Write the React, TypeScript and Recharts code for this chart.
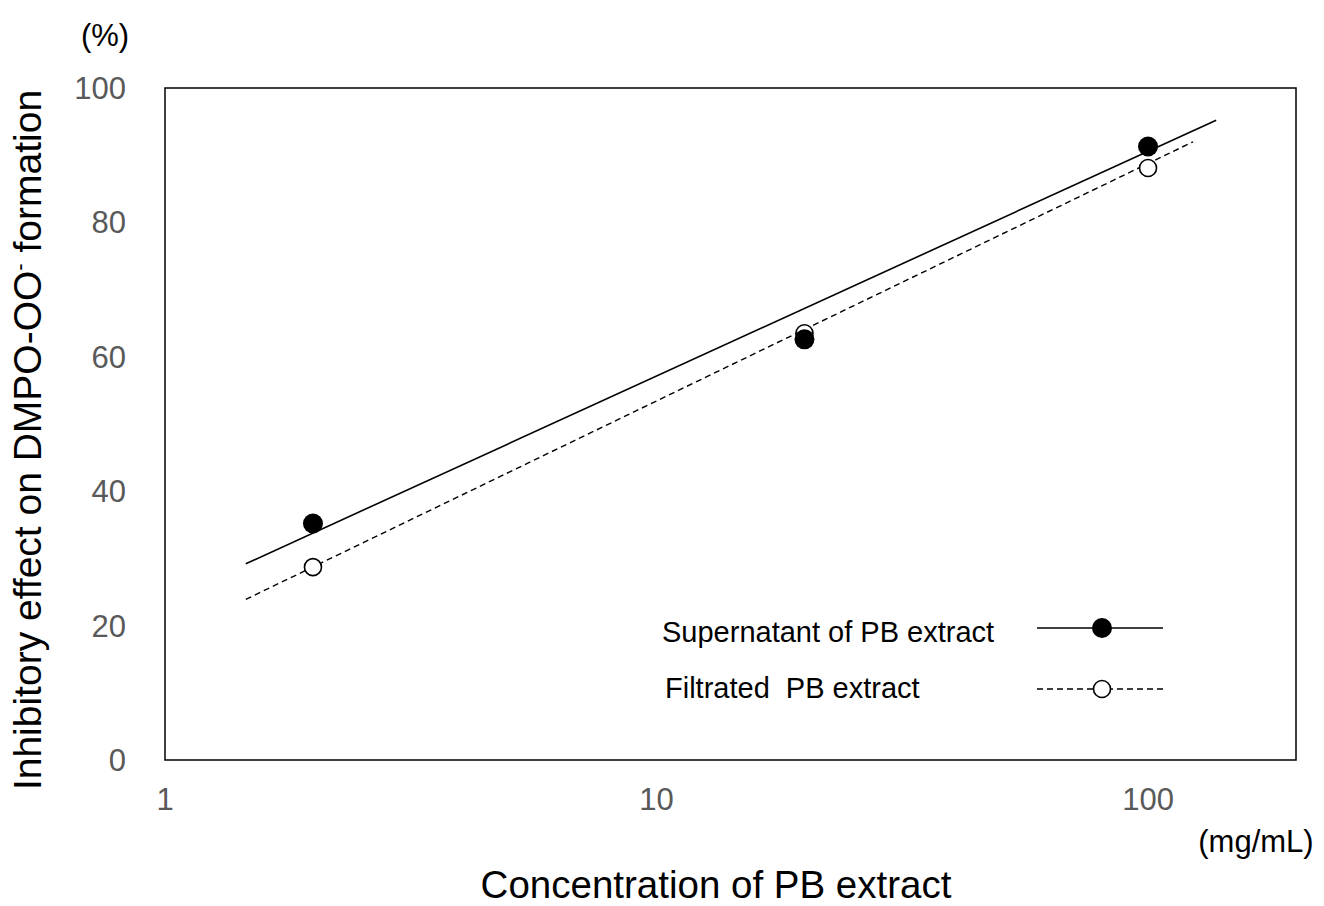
import React from 'react';
import {
  ComposedChart,
  Line,
  Scatter,
  XAxis,
  YAxis,
  ReferenceArea,
  Customized,
} from 'recharts';

// measured concentrations (mg/mL) and inhibition (%)
const concentrations = [2, 20, 100];
const supernatantValues = [35.2, 62.6, 91.3];
const filtratedValues = [28.7, 63.5, 88.1];

// logarithmic trend line end points
const supernatantFitX = [1.46, 137.6];
const supernatantFitY = [29.2, 95.2];
const filtratedFitX = [1.46, 123.5];
const filtratedFitY = [23.9, 92.0];

const xTicks = [1, 10, 100];
const yTicks = [0, 20, 40, 60, 80, 100];

const seriesNames = ['Supernatant of PB extract', 'Filtrated  PB extract'];

const FONT = '"Liberation Sans", Arial, sans-serif';
const TICK_COLOR = '#595959';

const toPoints = (xs: number[], ys: number[]) => xs.map((x, i) => ({ x, y: ys[i] }));

const supernatantPoints = toPoints(concentrations, supernatantValues);
const filtratedPoints = toPoints(concentrations, filtratedValues);
const supernatantFit = toPoints(supernatantFitX, supernatantFitY);
const filtratedFit = toPoints(filtratedFitX, filtratedFitY);

const FilledDot = (props: any) => (
  <circle cx={props.cx} cy={props.cy} r={10} fill="#000" />
);

const OpenDot = (props: any) => (
  <circle cx={props.cx} cy={props.cy} r={8.5} fill="#fff" stroke="#000" strokeWidth={1.6} />
);

const Annotations = () => (
  <g fontFamily={FONT}>
    <text x={105} y={46} fontSize={31} textAnchor="middle" fill="#000">(%)</text>
    <text x={1256} y={852} fontSize={31} textAnchor="middle" fill="#000">(mg/mL)</text>
    <text x={716} y={898} fontSize={38.5} textAnchor="middle" fill="#000">
      Concentration of PB extract
    </text>
    <text
      x={41}
      y={440}
      fontSize={39}
      textAnchor="middle"
      fill="#000"
      transform="rotate(-90 41 440)"
    >
      Inhibitory effect on DMPO-OO
      <tspan fontSize={22} dy={-14}>-</tspan>
      <tspan dy={14}> formation</tspan>
    </text>

    {/* legend */}
    <text x={662} y={642} fontSize={29} fill="#000" xmlSpace="preserve">{seriesNames[0]}</text>
    <line x1={1037} x2={1163} y1={628} y2={628} stroke="#000" strokeWidth={1.6} />
    <circle cx={1102} cy={628} r={10} fill="#000" />
    <text x={665} y={698} fontSize={29} fill="#000" xmlSpace="preserve">{seriesNames[1]}</text>
    <line
      x1={1037}
      x2={1163}
      y1={689}
      y2={689}
      stroke="#000"
      strokeWidth={1.4}
      strokeDasharray="6 4"
    />
    <circle cx={1102} cy={689} r={8.5} fill="#fff" stroke="#000" strokeWidth={1.6} />
  </g>
);

export default function App() {
  return (
    <div style={{ position: 'absolute', left: 0, top: 0, background: '#fff' }}>
      <ComposedChart
        width={1324}
        height={906}
        margin={{ top: 88, right: 28, bottom: 86, left: 105 }}
      >
        <XAxis
          dataKey="x"
          type="number"
          scale="log"
          domain={[1, 200]}
          ticks={xTicks}
          allowDataOverflow
          height={60}
          axisLine={false}
          tickLine={false}
          tickSize={0}
          tickMargin={28}
          tick={{ fontSize: 31, fill: TICK_COLOR, fontFamily: FONT }}
        />
        <YAxis
          type="number"
          domain={[0, 100]}
          ticks={yTicks}
          width={60}
          axisLine={false}
          tickLine={false}
          tickSize={0}
          tickMargin={39}
          tick={{ fontSize: 31, fill: TICK_COLOR, fontFamily: FONT }}
        />
        <ReferenceArea
          x1={1}
          x2={200}
          y1={0}
          y2={100}
          fill="none"
          stroke="#000"
          strokeWidth={1.5}
          ifOverflow="visible"
        />
        <Line
          data={supernatantFit}
          dataKey="y"
          type="linear"
          stroke="#000"
          strokeWidth={1.6}
          dot={false}
          activeDot={false}
          isAnimationActive={false}
        />
        <Line
          data={filtratedFit}
          dataKey="y"
          type="linear"
          stroke="#000"
          strokeWidth={1.4}
          strokeDasharray="6 4"
          dot={false}
          activeDot={false}
          isAnimationActive={false}
        />
        <Scatter
          data={filtratedPoints}
          dataKey="y"
          shape={OpenDot}
          isAnimationActive={false}
        />
        <Scatter
          data={supernatantPoints}
          dataKey="y"
          shape={FilledDot}
          isAnimationActive={false}
        />
        <Customized component={Annotations} />
      </ComposedChart>
    </div>
  );
}
